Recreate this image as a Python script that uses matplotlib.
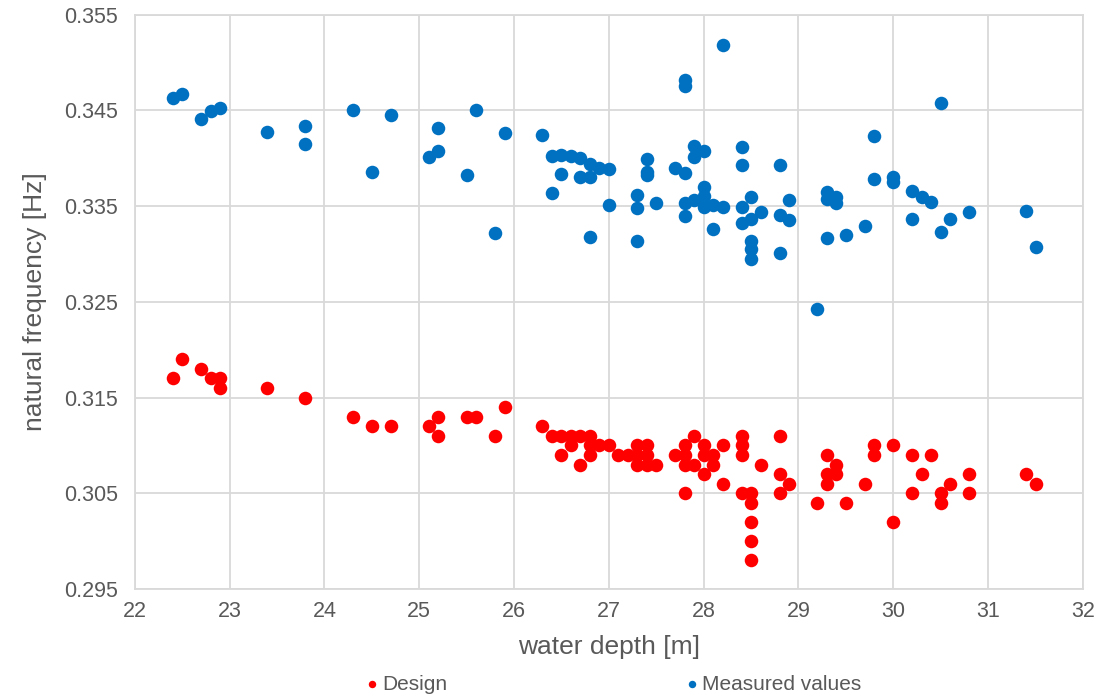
import matplotlib
matplotlib.use("Agg")
import matplotlib.pyplot as plt
from matplotlib.ticker import FormatStrFormatter

plt.rcParams['font.family'] = ['Liberation Sans', 'DejaVu Sans']

# Design values
design_depth = [22.4, 22.5, 22.7, 22.8, 22.9, 22.9, 23.4, 23.8, 24.3, 24.5, 24.7, 25.1, 25.2, 25.2,
                25.5, 25.6, 25.8, 25.9, 26.3, 26.4, 26.5, 26.5, 26.6, 26.6, 26.7, 26.7, 26.8, 26.8,
                26.8, 26.9, 27.0, 27.1, 27.2, 27.3, 27.3, 27.3, 27.4, 27.4, 27.4, 27.5, 27.7, 27.8,
                27.8, 27.8, 27.8, 27.9, 27.9, 28.0, 28.0, 28.0, 28.1, 28.1, 28.2, 28.2, 28.4, 28.4,
                28.4, 28.4, 28.5, 28.5, 28.5, 28.5, 28.5, 28.6, 28.8, 28.8, 28.8, 28.9, 29.2, 29.3,
                29.3, 29.3, 29.4, 29.4, 29.5, 29.7, 29.8, 29.8, 30.0, 30.0, 30.2, 30.2, 30.3, 30.4,
                30.5, 30.5, 30.6, 30.8, 30.8, 31.4, 31.5]
design_freq = [0.317, 0.319, 0.318, 0.317, 0.317, 0.316, 0.316, 0.315, 0.313, 0.312, 0.312, 0.312, 0.313, 0.311,
               0.313, 0.313, 0.311, 0.314, 0.312, 0.311, 0.311, 0.309, 0.311, 0.310, 0.311, 0.308, 0.311, 0.310,
               0.309, 0.310, 0.310, 0.309, 0.309, 0.310, 0.309, 0.308, 0.310, 0.309, 0.308, 0.308, 0.309, 0.310,
               0.309, 0.308, 0.305, 0.311, 0.308, 0.310, 0.309, 0.307, 0.309, 0.308, 0.310, 0.306, 0.311, 0.310,
               0.309, 0.305, 0.305, 0.304, 0.302, 0.300, 0.298, 0.308, 0.311, 0.307, 0.305, 0.306, 0.304, 0.309,
               0.307, 0.306, 0.308, 0.307, 0.304, 0.306, 0.310, 0.309, 0.310, 0.302, 0.309, 0.305, 0.307, 0.309,
               0.305, 0.304, 0.306, 0.307, 0.305, 0.307, 0.306]

# Measured values
meas_depth = [22.4, 22.5, 22.7, 22.8, 22.9, 23.4, 23.8, 23.8, 24.3, 24.5, 24.7, 25.1, 25.2, 25.2,
              25.5, 25.6, 25.8, 25.9, 26.3, 26.4, 26.4, 26.5, 26.5, 26.6, 26.7, 26.7, 26.8, 26.8,
              26.8, 26.9, 27.0, 27.0, 27.3, 27.3, 27.3, 27.4, 27.4, 27.4, 27.5, 27.7, 27.8, 27.8,
              27.8, 27.8, 27.8, 27.9, 27.9, 27.9, 28.0, 28.0, 28.0, 28.0, 28.1, 28.1, 28.2, 28.2,
              28.4, 28.4, 28.4, 28.4, 28.5, 28.5, 28.5, 28.5, 28.5, 28.6, 28.8, 28.8, 28.8, 28.9,
              28.9, 29.2, 29.3, 29.3, 29.3, 29.4, 29.4, 29.5, 29.7, 29.8, 29.8, 30.0, 30.0, 30.2,
              30.2, 30.3, 30.4, 30.5, 30.5, 30.6, 30.8, 31.4, 31.5]
meas_freq = [0.3463, 0.3467, 0.3441, 0.3449, 0.3452, 0.3427, 0.3434, 0.3415, 0.3450, 0.3386, 0.3445, 0.3401, 0.3432, 0.3408,
             0.3382, 0.3450, 0.3322, 0.3426, 0.3424, 0.3402, 0.3364, 0.3403, 0.3383, 0.3402, 0.3400, 0.3380, 0.3394, 0.3380,
             0.3318, 0.3390, 0.3389, 0.3351, 0.3362, 0.3348, 0.3313, 0.3399, 0.3386, 0.3382, 0.3353, 0.3390, 0.3385, 0.3482,
             0.3475, 0.3353, 0.3340, 0.3413, 0.3401, 0.3356, 0.3408, 0.3370, 0.3361, 0.3349, 0.3351, 0.3326, 0.3518, 0.3349,
             0.3412, 0.3393, 0.3349, 0.3332, 0.3360, 0.3337, 0.3314, 0.3305, 0.3295, 0.3344, 0.3393, 0.3341, 0.3301, 0.3356,
             0.3335, 0.3243, 0.3365, 0.3357, 0.3317, 0.3360, 0.3353, 0.3320, 0.3329, 0.3423, 0.3378, 0.3380, 0.3375, 0.3366,
             0.3336, 0.3360, 0.3354, 0.3458, 0.3323, 0.3336, 0.3344, 0.3345, 0.3307]

x_ticks = list(range(22, 33))
y_ticks = [0.295, 0.305, 0.315, 0.325, 0.335, 0.345, 0.355]

grey = '#595959'
grid_col = '#D9D9D9'

fig = plt.figure(figsize=(11, 6.97), dpi=100)
ax = fig.add_axes([0.1225, 0.155, 0.862, 0.824])

ax.scatter(design_depth, design_freq, s=95, color='#FF0000', linewidths=0, label='Design', zorder=3)
ax.scatter(meas_depth, meas_freq, s=95, color='#0070C0', linewidths=0, label='Measured values', zorder=3)

ax.set_xlim(22, 32)
ax.set_ylim(0.295, 0.355)
ax.set_xticks(x_ticks)
ax.set_yticks(y_ticks)
ax.yaxis.set_major_formatter(FormatStrFormatter('%.3f'))
ax.grid(True, color=grid_col, linewidth=1.3, zorder=0)
ax.set_axisbelow(True)
for sp in ax.spines.values():
    sp.set_color(grid_col)
    sp.set_linewidth(1.3)
ax.tick_params(length=0, labelsize=15.5, colors=grey)
ax.tick_params(axis='y', pad=12)
ax.tick_params(axis='x', pad=9)

ax.set_xlabel('water depth [m]', fontsize=19, color=grey, labelpad=9)
ax.set_ylabel('natural frequency [Hz]', fontsize=19, color=grey, labelpad=12)

fig.legend(loc='lower center', bbox_to_anchor=(0.556, -0.022), ncol=2, frameon=False,
           fontsize=15, labelcolor=grey, markerscale=0.55, handletextpad=0.0,
           columnspacing=11.2, handlelength=1.0)

fig.savefig('out.png', dpi=100)
